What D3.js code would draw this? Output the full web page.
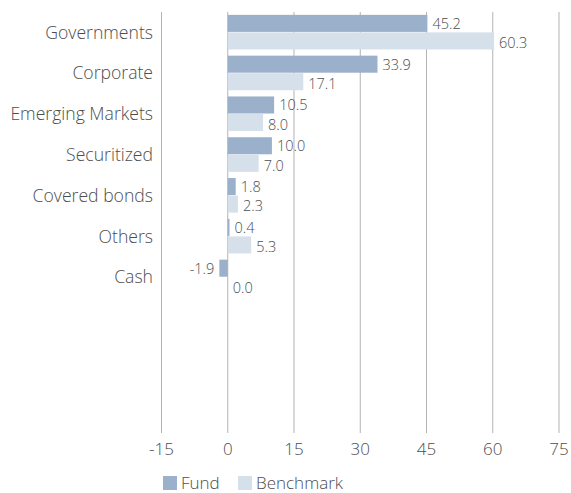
<!DOCTYPE html>
<html>
<head>
<meta charset="utf-8">
<script src="https://cdn.jsdelivr.net/npm/d3@7"></script>
<style>
  body { margin: 0; background: #fff; }
  text { font-family: "Open Sans", Lato, sans-serif; fill: #4d4d4d; font-weight: 300; }
</style>
</head>
<body>
<svg id="chart"></svg>
<script>
// chart data
const categories = ['Governments', 'Corporate', 'Emerging Markets', 'Securitized', 'Covered bonds', 'Others', 'Cash'];
const fund = [45.2, 33.9, 10.5, 10.0, 1.8, 0.4, -1.9];
const benchmark = [60.3, 17.1, 8.0, 7.0, 2.3, 5.3, 0.0];
const xTicks = [-15, 0, 15, 30, 45, 60, 75];
const seriesNames = ['Fund', 'Benchmark'];
const colors = ['#9bb0ca', '#d6e0ea'];

const width = 571, height = 493;
const svg = d3.select('#chart').attr('width', width).attr('height', height);

const x = d3.scaleLinear().domain([-15, 75]).range([161.5, 559]);
// 7 categories use the top part; the plot area continues down to the axis
const step = 40.8;
const y = d3.scaleBand()
    .domain(categories)
    .range([12, 12 + step * categories.length])
    .paddingInner(0.14)
    .paddingOuter(0.07);
const ySub = d3.scaleBand().domain(seriesNames).range([0, y.bandwidth()]);

const plotTop = 12, plotBottom = 433;

// gridlines
svg.append('g')
    .selectAll('line')
    .data(xTicks)
    .join('line')
    .attr('x1', d => x(d)).attr('x2', d => x(d))
    .attr('y1', plotTop).attr('y2', plotBottom)
    .attr('stroke', '#b3b3b3')
    .attr('stroke-width', 1);

// tick labels
svg.append('g')
    .selectAll('text')
    .data(xTicks)
    .join('text')
    .attr('x', d => x(d))
    .attr('y', 449)
    .attr('dy', '0.35em')
    .attr('text-anchor', 'middle')
    .style('font-size', '17px')
    .text(d => d);

// category labels
svg.append('g')
    .selectAll('text')
    .data(categories)
    .join('text')
    .attr('x', 153)
    .attr('y', d => y(d) + y.bandwidth() / 2)
    .attr('dy', '0.35em')
    .attr('text-anchor', 'end')
    .style('font-size', '17.6px')
    .text(d => d);

// bars + value labels
const series = [fund, benchmark];
const labelShift = [0, 2];
series.forEach((vals, si) => {
    const g = svg.append('g');
    const rows = categories.map((c, i) => ({ c, v: vals[i] }));
    g.selectAll('rect')
        .data(rows)
        .join('rect')
        .attr('x', d => x(Math.min(0, d.v)))
        .attr('y', d => y(d.c) + ySub(seriesNames[si]))
        .attr('width', d => Math.abs(x(d.v) - x(0)))
        .attr('height', ySub.bandwidth() - 0.5)
        .attr('fill', colors[si]);

    g.selectAll('text')
        .data(rows)
        .join('text')
        .attr('x', d => d.v < 0 ? x(d.v) - 5 : x(d.v) + 5)
        .attr('y', d => y(d.c) + ySub(seriesNames[si]) + ySub.bandwidth() / 2 + labelShift[si])
        .attr('dy', '0.35em')
        .attr('text-anchor', d => d.v < 0 ? 'end' : 'start')
        .style('font-size', '14.5px')
        .text(d => d.v.toFixed(1));
});

// legend
const legend = svg.append('g').attr('transform', 'translate(163, 476)');
const legendX = [0, 75];
seriesNames.forEach((name, i) => {
    legend.append('rect')
        .attr('x', legendX[i]).attr('y', 0)
        .attr('width', 14).attr('height', 14)
        .attr('fill', colors[i]);
    legend.append('text')
        .attr('x', legendX[i] + 18)
        .attr('y', 7)
        .attr('dy', '0.35em')
        .style('font-size', '17px')
        .text(name);
});
</script>
</body>
</html>
